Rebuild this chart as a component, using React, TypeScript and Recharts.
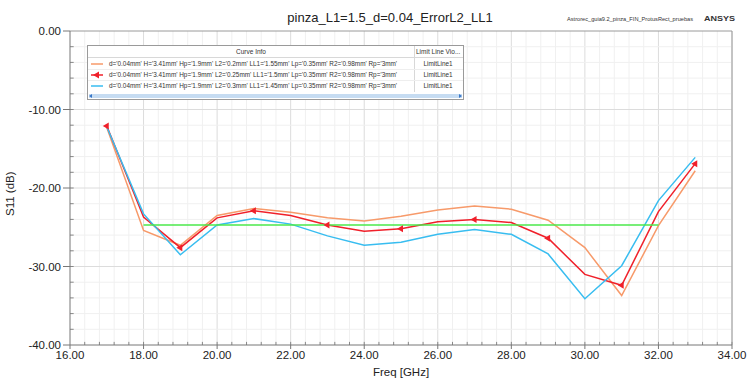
import React from "react";
import { LineChart, Line, XAxis, YAxis, ReferenceLine } from "recharts";

const freqs = [17, 18, 19, 20, 21, 22, 23, 24, 25, 26, 27, 28, 29, 30, 31, 32, 33];
const s11L2_020 = [-12.3, -25.4, -27.3, -23.5, -22.6, -23.1, -23.8, -24.2, -23.6, -22.8, -22.3, -22.7, -24.1, -27.6, -33.7, -24.8, -17.8];
const s11L2_025 = [-12.1, -23.7, -27.6, -23.8, -22.9, -23.5, -24.7, -25.5, -25.2, -24.3, -24.0, -24.4, -26.4, -31.0, -32.4, -23.0, -16.9];
const s11L2_030 = [-12.2, -23.3, -28.5, -24.7, -23.9, -24.6, -26.1, -27.3, -26.9, -25.9, -25.3, -25.9, -28.4, -34.1, -29.9, -21.6, -16.1];
const limitFreqs = [18, 32];
const limitValues = [-24.7, -24.7];

const xTicks = [16, 18, 20, 22, 24, 26, 28, 30, 32, 34];
const yTicks = [-40, -30, -20, -10, 0];

const curveNames = [
  "d='0.04mm' H='3.41mm' Hp='1.9mm' L2='0.2mm' LL1='1.55mm' Lp='0.35mm' R2='0.98mm' Rp='3mm'",
  "d='0.04mm' H='3.41mm' Hp='1.9mm' L2='0.25mm' LL1='1.5mm' Lp='0.35mm' R2='0.98mm' Rp='3mm'",
  "d='0.04mm' H='3.41mm' Hp='1.9mm' L2='0.3mm' LL1='1.45mm' Lp='0.35mm' R2='0.98mm' Rp='3mm'",
];
const curveColors = ["#f79a6a", "#f0202a", "#38bdf0"];

const data = freqs.map((f, i) => ({ f, a: s11L2_020[i], b: s11L2_025[i], c: s11L2_030[i] }));
const limitData = limitFreqs.map((f, i) => ({ f, lim: limitValues[i] }));

const minorX: number[] = [];
for (let v = 16.4; v < 34; v += 0.4) minorX.push(Math.round(v * 10) / 10);
const minorY: number[] = [];
for (let v = -38; v < 0; v += 2) minorY.push(v);

const FONT = "'Liberation Sans', Arial, sans-serif";

const Marker = (props: any) => {
  const { cx, cy, payload } = props;
  if (cx == null || cy == null || payload.f % 2 === 0) return <g key={`m-${payload.f}`} />;
  return (
    <polygon
      key={`m-${payload.f}`}
      points={`${cx - 4},${cy} ${cx + 2},${cy - 3.5} ${cx + 2},${cy + 3.5}`}
      fill="#f0202a"
    />
  );
};

function Overlay() {
  return (
    <svg width={748} height={378} style={{ position: "absolute", left: 0, top: 0, pointerEvents: "none" }}>
      <rect x={87.5} y={45.5} width={376} height={54} fill="#ffffff" stroke="#9a9a9a" />
      <line x1={88} x2={463} y1={57.5} y2={57.5} stroke="#d8d8d8" />
      <line x1={414.5} x2={414.5} y1={46} y2={92} stroke="#d8d8d8" />
      <line x1={88} x2={463} y1={69.5} y2={69.5} stroke="#eeeeee" />
      <line x1={88} x2={463} y1={80.5} y2={80.5} stroke="#eeeeee" />
      <text x={251} y={54} fontSize={6.5} fontFamily={FONT} textAnchor="middle" fill="#333">Curve Info</text>
      <text x={416} y={54} fontSize={6.5} fontFamily={FONT} fill="#333">Limit Line Vio...</text>
      {curveNames.map((n, i) => (
        <g key={i}>
          <line x1={91} x2={103} y1={64 + i * 11} y2={64 + i * 11} stroke={curveColors[i]} strokeWidth={1.5} />
          {i === 1 && <polygon points="93,75 99,71.5 99,78.5" fill="#f0202a" />}
          <text x={109} y={66 + i * 11} fontSize={6.4} fontFamily={FONT} fill="#333">{n}</text>
          <text x={438} y={66 + i * 11} fontSize={6.4} fontFamily={FONT} textAnchor="middle" fill="#333">LimitLine1</text>
        </g>
      ))}
      <rect x={89} y={94} width={373} height={4} fill="#c6dcf2" />
      <polygon points="89,96 92,94 92,98" fill="#3a78c8" />
      <polygon points="462,96 459,94 459,98" fill="#3a78c8" />
      <text x={401} y={376} fontSize={11.5} fontFamily={FONT} textAnchor="middle" fill="#222">Freq [GHz]</text>
    </svg>
  );
}

export default function App() {
  return (
    <div style={{ position: "absolute", left: 0, top: 0, width: 748, height: 378, background: "#fff", fontFamily: FONT }}>
      <svg width={748} height={378} style={{ position: "absolute", left: 0, top: 0 }}>
        <text x={390} y={22} fontSize={13} fontFamily={FONT} textAnchor="middle" fill="#222">pinza_L1=1.5_d=0.04_ErrorL2_LL1</text>
        <text x={567} y={21} fontSize={6.2} fontFamily={FONT} fill="#333" textLength={126} lengthAdjust="spacingAndGlyphs">Astrorec_guia9.2_pinza_FIN_ProtusRect_pruebas</text>
        <text x={704} y={21} fontSize={7} fontWeight="bold" fontFamily={FONT} fill="#333" textLength={31} lengthAdjust="spacingAndGlyphs">ANSYS</text>
      </svg>
      <div style={{ position: "absolute", left: 0, top: 0 }}>
        <LineChart width={748} height={378} margin={{ top: 31, right: 16, bottom: 0, left: 0 }}>
          {minorX.map((v) => (
            <ReferenceLine key={`gx${v}`} x={v} stroke={v % 2 === 0 ? "#dcdcdc" : "#f0f0f0"} strokeWidth={1} />
          ))}
          {minorY.map((v) => (
            <ReferenceLine key={`gy${v}`} y={v} stroke={v % 10 === 0 ? "#dcdcdc" : "#f0f0f0"} strokeWidth={1} />
          ))}
          {minorX.map((v) => (
            <ReferenceLine key={`tx${v}`} segment={[{ x: v, y: -40 }, { x: v, y: -39.6 }]} stroke="#888" />
          ))}
          {minorY.map((v) => (
            <ReferenceLine key={`ty${v}`} segment={[{ x: 16, y: v }, { x: 16.1, y: v }]} stroke="#888" />
          ))}
          <ReferenceLine x={34} stroke="#9a9a9a" />
          <ReferenceLine y={0} stroke="#9a9a9a" />
          <XAxis
            dataKey="f"
            type="number"
            domain={[16, 34]}
            ticks={xTicks}
            allowDataOverflow
            tickFormatter={(v: number) => v.toFixed(2)}
            tick={{ fontSize: 11.5, fill: "#222", fontFamily: FONT }}
            stroke="#777"
            tickSize={4}
            height={33}
          />
          <YAxis
            type="number"
            domain={[-40, 0]}
            ticks={yTicks}
            tickFormatter={(v: number) => v.toFixed(2)}
            tick={{ fontSize: 11.5, fill: "#222", fontFamily: FONT }}
            stroke="#777"
            tickSize={7}
            width={70}
            label={{ value: "S11 (dB)", angle: -90, position: "insideLeft", offset: 10, dy: 28, fontSize: 11.5, fill: "#222", fontFamily: FONT }}
          />
          <Line data={data} dataKey="a" type="linear" stroke={curveColors[0]} strokeWidth={1.5} dot={false} isAnimationActive={false} />
          <Line data={data} dataKey="b" type="linear" stroke={curveColors[1]} strokeWidth={1.5} dot={<Marker />} isAnimationActive={false} />
          <Line data={data} dataKey="c" type="linear" stroke={curveColors[2]} strokeWidth={1.5} dot={false} isAnimationActive={false} />
          <Line data={limitData} dataKey="lim" type="linear" stroke="#4be84b" strokeWidth={1.5} dot={false} isAnimationActive={false} />
        </LineChart>
      </div>
      <Overlay />
    </div>
  );
}
